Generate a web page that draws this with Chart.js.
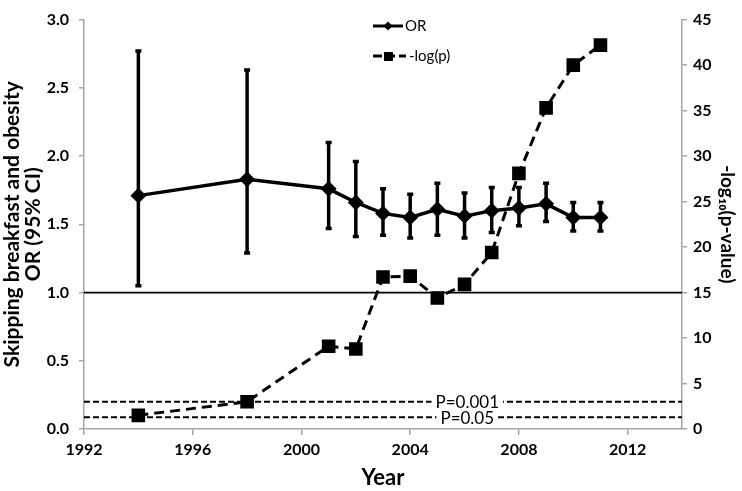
<!DOCTYPE html>
<html>
<head>
<meta charset="utf-8">
<script src="https://cdn.jsdelivr.net/npm/chart.js@4"></script>
<style>
  body { margin: 0; background: #fff; }
  canvas { display: block; }
</style>
</head>
<body>
<canvas id="chart" width="742" height="491"></canvas>
<script>
// survey years and estimates
const years = [1994, 1998, 2001, 2002, 2003, 2004, 2005, 2006, 2007, 2008, 2009, 2010, 2011];
const orValues = [1.71, 1.83, 1.76, 1.66, 1.58, 1.55, 1.61, 1.56, 1.60, 1.62, 1.65, 1.55, 1.55];
const ciLow = [1.05, 1.29, 1.47, 1.41, 1.42, 1.40, 1.42, 1.40, 1.44, 1.49, 1.52, 1.45, 1.45];
const ciHigh = [2.77, 2.63, 2.10, 1.96, 1.76, 1.72, 1.80, 1.73, 1.77, 1.77, 1.80, 1.66, 1.66];
const negLogP = [1.5, 3.0, 9.1, 8.8, 16.7, 16.8, 14.4, 15.9, 19.4, 28.1, 35.3, 40.0, 42.2];

// reference lines
const xRange = [1992, 2014];
const orReference = 1;
const pThresholds = [3, 1.3];
const pLabels = ['P=0.001', 'P=0.05'];
const pLabelYear = 2006.1;

const FONT = 'Lato, "Open Sans", sans-serif';

// error bar segments, broken by nulls
const errorSegments = [];
const caps = [];
for (let i = 0; i < years.length; i++) {
  errorSegments.push({ x: years[i], y: ciLow[i] });
  errorSegments.push({ x: years[i], y: ciHigh[i] });
  errorSegments.push({ x: years[i], y: null });
  caps.push({ x: years[i], y: ciLow[i] });
  caps.push({ x: years[i], y: ciHigh[i] });
}

const orPoints = years.map((y, i) => ({ x: y, y: orValues[i] }));
const pPoints = years.map((y, i) => ({ x: y, y: negLogP[i] }));

const thresholdSets = pThresholds.map(t => ({
  type: 'line',
  data: [{ x: xRange[0], y: t }, { x: xRange[1], y: t }],
  yAxisID: 'y2',
  borderColor: '#000',
  borderWidth: 2,
  borderDash: [6, 3],
  pointRadius: 0,
  order: 5
}));

// labels on the p-value threshold lines
const thresholdLabels = {
  id: 'thresholdLabels',
  afterDatasetsDraw(chart) {
    const ctx = chart.ctx;
    const xs = chart.scales.x;
    const ys = chart.scales.y2;
    ctx.save();
    ctx.font = '17px ' + FONT;
    ctx.textAlign = 'center';
    ctx.textBaseline = 'middle';
    pThresholds.forEach((t, i) => {
      const px = xs.getPixelForValue(pLabelYear);
      const py = ys.getPixelForValue(t);
      const w = ctx.measureText(pLabels[i]).width;
      ctx.fillStyle = '#fff';
      ctx.fillRect(px - w / 2 - 4, py - 6, w + 8, 12);
      ctx.fillStyle = '#000';
      ctx.fillText(pLabels[i], px, py + 1);
    });
    ctx.restore();
  }
};

// legend in the top middle
const legendBox = {
  id: 'legendBox',
  afterDraw(chart) {
    const ctx = chart.ctx;
    ctx.save();
    ctx.strokeStyle = '#000';
    ctx.fillStyle = '#000';
    ctx.lineWidth = 3;
    ctx.beginPath();
    ctx.moveTo(373, 26);
    ctx.lineTo(403, 26);
    ctx.stroke();
    ctx.beginPath();
    ctx.moveTo(388, 21.5);
    ctx.lineTo(392.5, 26);
    ctx.lineTo(388, 30.5);
    ctx.lineTo(383.5, 26);
    ctx.closePath();
    ctx.fill();

    ctx.setLineDash([9, 4]);
    ctx.beginPath();
    ctx.moveTo(373, 56);
    ctx.lineTo(406, 56);
    ctx.stroke();
    ctx.setLineDash([]);
    ctx.fillRect(384, 52, 9, 9);

    ctx.font = '15px ' + FONT;
    ctx.textBaseline = 'middle';
    ctx.fillText('OR', 405, 26);
    ctx.fillText('-log(p)', 409, 56);
    ctx.restore();
  }
};

const axisGray = '#a6a6a6';

new Chart(document.getElementById('chart'), {
  type: 'line',
  data: {
    datasets: [
      {
        label: 'OR',
        data: orPoints,
        yAxisID: 'y',
        borderColor: '#000',
        backgroundColor: '#000',
        borderWidth: 3.5,
        pointStyle: 'rectRot',
        pointRadius: 5.5,
        order: 0
      },
      {
        label: '-log(p)',
        data: pPoints,
        yAxisID: 'y2',
        borderColor: '#000',
        backgroundColor: '#000',
        borderWidth: 3,
        borderDash: [10, 6],
        pointStyle: 'rect',
        pointRadius: 7.5,
        order: 1
      },
      {
        label: 'CI',
        data: errorSegments,
        yAxisID: 'y',
        borderColor: '#000',
        borderWidth: 3.5,
        pointRadius: 0,
        spanGaps: false,
        order: 2
      },
      {
        label: 'caps',
        data: caps,
        yAxisID: 'y',
        showLine: false,
        borderColor: '#000',
        borderWidth: 3.5,
        pointStyle: 'line',
        pointRadius: 3,
        order: 3
      },
      {
        label: 'OR=1',
        data: [{ x: xRange[0], y: orReference }, { x: xRange[1], y: orReference }],
        yAxisID: 'y',
        borderColor: '#000',
        borderWidth: 1.8,
        pointRadius: 0,
        order: 4
      },
      ...thresholdSets
    ]
  },
  options: {
    responsive: false,
    animation: false,
    events: [],
    layout: { padding: { top: 7, left: 0, right: 0, bottom: 0 } },
    plugins: {
      legend: { display: false },
      tooltip: { enabled: false }
    },
    scales: {
      x: {
        type: 'linear',
        min: xRange[0],
        max: xRange[1],
        afterFit: s => { s.height = 62; },
        border: { display: true, color: axisGray, width: 1.5 },
        grid: { drawOnChartArea: false, drawTicks: true, tickLength: 6, color: axisGray, lineWidth: 1.5 },
        ticks: {
          stepSize: 4,
          includeBounds: false,
          padding: 5,
          color: '#000',
          font: { family: FONT, size: 16, weight: 'bold' },
          callback: v => String(v)
        },
        title: {
          display: true,
          text: 'Year',
          color: '#000',
          font: { family: FONT, size: 22, weight: 'bold', lineHeight: 1.2 },
          padding: { top: 0, bottom: 0 }
        }
      },
      y: {
        position: 'left',
        min: 0,
        max: 3,
        afterFit: s => { s.width = 84; },
        border: { display: true, color: axisGray, width: 1.5 },
        grid: { drawOnChartArea: false, drawTicks: true, tickLength: 5, color: axisGray, lineWidth: 1.5 },
        ticks: {
          stepSize: 0.5,
          padding: 10,
          color: '#000',
          font: { family: FONT, size: 16, weight: 'bold' },
          callback: v => v.toFixed(1)
        },
        title: {
          display: true,
          text: ['Skipping breakfast and obesity', 'OR (95% CI)'],
          color: '#000',
          font: { family: FONT, size: 21, weight: 'bold', lineHeight: 1.03 },
          padding: { top: 1, bottom: 0 }
        }
      },
      y2: {
        position: 'right',
        min: 0,
        max: 45,
        afterFit: s => { s.width = 60; },
        border: { display: true, color: axisGray, width: 1.5 },
        grid: { drawOnChartArea: false, drawTicks: true, tickLength: 5, color: axisGray, lineWidth: 1.5 },
        ticks: {
          stepSize: 5,
          padding: 6,
          color: '#000',
          font: { family: FONT, size: 16, weight: 'bold' }
        },
        title: {
          display: true,
          text: '-log\u2081\u2080(p-value)',
          color: '#000',
          font: { family: FONT, size: 19, weight: 'bold', lineHeight: 1.2 },
          padding: { top: 3, bottom: 0 }
        }
      }
    }
  },
  plugins: [thresholdLabels, legendBox]
});
</script>
</body>
</html>
